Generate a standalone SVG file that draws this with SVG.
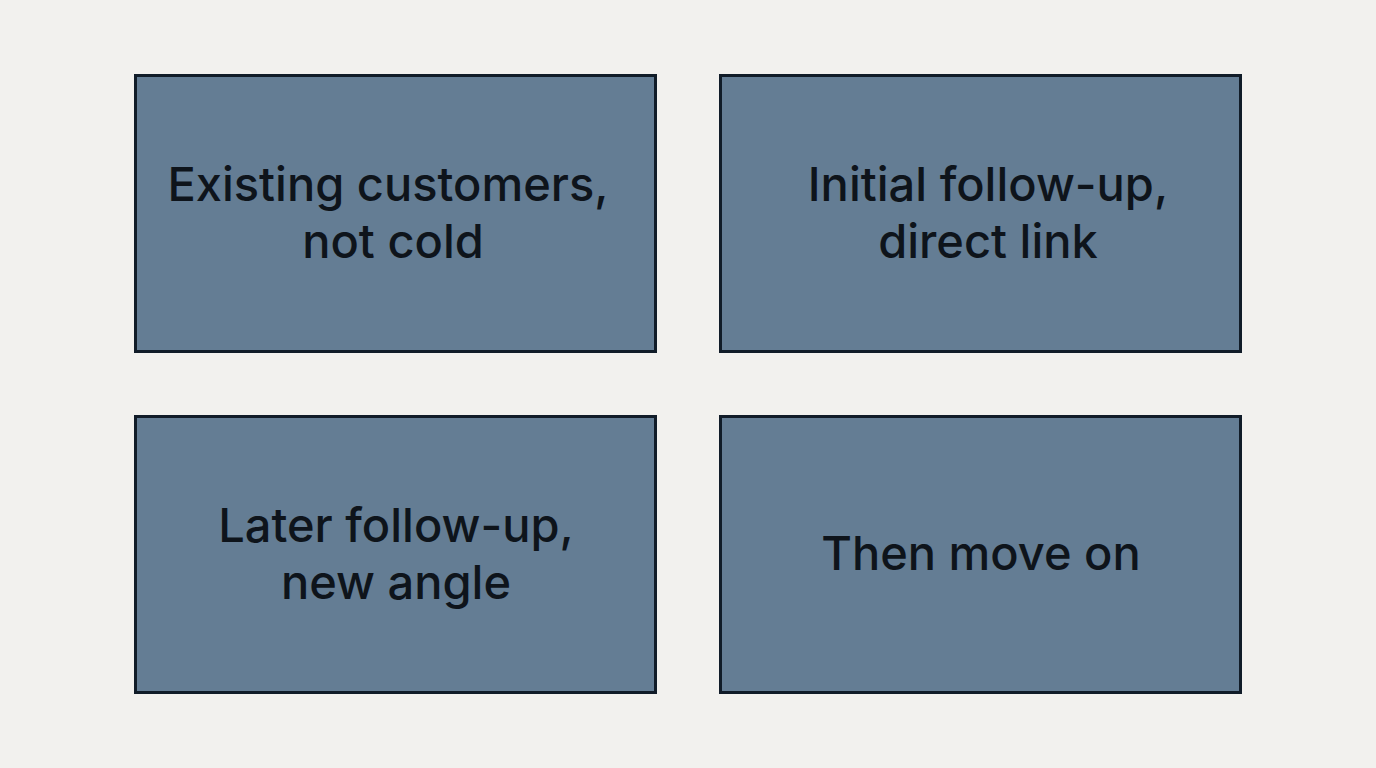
<svg xmlns="http://www.w3.org/2000/svg" width="1376" height="768" viewBox="0 0 1376 768">
<style>
.box{fill:#647d94;stroke:#111c28;stroke-width:3}
.t{font-family:Inter,"Liberation Sans",sans-serif;font-size:47px;font-weight:500;fill:#0e141b;text-anchor:middle}
</style>
<rect width="1376" height="768" fill="#f2f1ee"/>
<g id="n1"><rect class="box" x="135.5" y="75.5" width="520" height="276"/><text class="t" x="388" y="201">Existing customers,</text><text class="t" x="393" y="258">not cold</text></g>
<g id="n2"><rect class="box" x="720.5" y="75.5" width="520" height="276"/><text class="t" x="988" y="201">Initial follow-up,</text><text class="t" x="988" y="258">direct link</text></g>
<g id="n3"><rect class="box" x="135.5" y="416.5" width="520" height="276"/><text class="t" x="396" y="542">Later follow-up,</text><text class="t" x="396" y="599">new angle</text></g>
<g id="n4"><rect class="box" x="720.5" y="416.5" width="520" height="276"/><text class="t" x="981" y="570">Then move on</text></g>
<g id="connectors"/>
</svg>
